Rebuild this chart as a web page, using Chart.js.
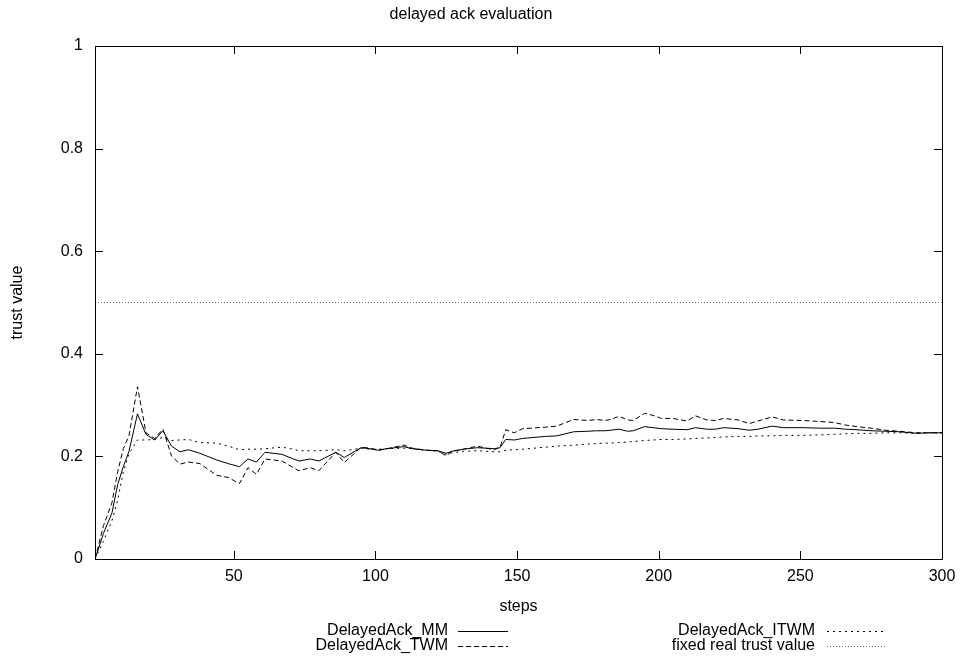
<!DOCTYPE html>
<html><head><meta charset="utf-8">
<script src="https://cdn.jsdelivr.net/npm/chart.js@4/dist/chart.umd.min.js"></script>
<style>html,body{margin:0;padding:0;background:#fff}</style>
</head><body>
<div style="width:966px;height:672px;position:relative"><canvas id="c" width="966" height="672"></canvas></div>
<script>
const steps = [1,4,7,9,11,13,16,19,22,25,28,31,34,38,44,48,52,55,58,61,67,71,73,77,80,86,89,95,98,101,104,110,113,118,122,125,127,131,136,139,142,144,146,149,152,160,164,170,175,178,181,183,186,189,191,195,198,201,205,210,213,217,220,223,228,232,235,240,244,251,257,262,266,270,275,280,285,291,295,300];
const mmValues = [0,0.05,0.09,0.145,0.18,0.21,0.283,0.243,0.232,0.25,0.22,0.209,0.213,0.206,0.193,0.186,0.18,0.195,0.189,0.208,0.204,0.195,0.191,0.195,0.191,0.208,0.198,0.217,0.215,0.212,0.215,0.219,0.215,0.212,0.211,0.206,0.21,0.214,0.217,0.216,0.215,0.217,0.233,0.232,0.235,0.239,0.24,0.248,0.249,0.25,0.25,0.251,0.253,0.249,0.25,0.258,0.256,0.254,0.253,0.252,0.256,0.253,0.253,0.256,0.254,0.251,0.253,0.259,0.256,0.256,0.255,0.255,0.253,0.252,0.25,0.249,0.248,0.245,0.246,0.246];
const twmValues = [0,0.065,0.11,0.17,0.215,0.24,0.336,0.246,0.235,0.253,0.201,0.185,0.189,0.186,0.163,0.159,0.147,0.178,0.165,0.195,0.191,0.178,0.172,0.178,0.172,0.208,0.188,0.218,0.216,0.212,0.215,0.222,0.216,0.212,0.211,0.201,0.21,0.214,0.22,0.216,0.213,0.218,0.252,0.246,0.254,0.257,0.259,0.272,0.27,0.272,0.27,0.272,0.278,0.271,0.27,0.284,0.28,0.274,0.274,0.269,0.279,0.271,0.27,0.274,0.271,0.264,0.269,0.277,0.271,0.27,0.268,0.266,0.261,0.258,0.255,0.251,0.249,0.246,0.246,0.246];
const itwmValues = [0,0.035,0.075,0.115,0.17,0.205,0.232,0.232,0.233,0.237,0.231,0.232,0.233,0.227,0.226,0.22,0.213,0.214,0.214,0.215,0.218,0.214,0.211,0.211,0.211,0.213,0.211,0.216,0.214,0.214,0.215,0.216,0.215,0.212,0.21,0.204,0.207,0.21,0.211,0.21,0.209,0.209,0.212,0.213,0.214,0.218,0.22,0.222,0.224,0.225,0.226,0.226,0.227,0.228,0.229,0.231,0.232,0.233,0.233,0.234,0.235,0.236,0.237,0.238,0.239,0.239,0.24,0.24,0.241,0.241,0.242,0.243,0.244,0.245,0.245,0.246,0.246,0.245,0.246,0.246];
const fixedSteps = [1,300];
const fixedValues = [0.5,0.5];
const xTickValues = [50,100,150,200,250,300];
const yTickValues = [0,0.2,0.4,0.6,0.8,1];
const seriesLabels = ['DelayedAck_MM','DelayedAck_TWM','DelayedAck_ITWM','fixed real trust value'];

const FONT = "'Liberation Sans', Arial, Helvetica, sans-serif";
const FS = 16;
const pts = (xs, ys) => xs.map((x, i) => ({x: x, y: ys[i]}));

const styles = [
  {borderColor:'#000', borderDash:[]},
  {borderColor:'#000', borderDash:[5,3]},
  {borderColor:'#000', borderDash:[2,4]},
  {borderColor:'#666', borderDash:[1,2]}
];

const frameTicks = {
  id:'frameTicks',
  afterDatasetsDraw(chart){
    const {ctx, chartArea:a, scales:{x, y}} = chart;
    ctx.save();
    ctx.strokeStyle = '#000';
    ctx.lineWidth = 1;
    ctx.beginPath();
    ctx.rect(Math.round(a.left)+0.5, Math.round(a.top)+0.5, Math.round(a.right-a.left), Math.round(a.bottom-a.top));
    ctx.stroke();
    const L = 8;
    ctx.beginPath();
    xTickValues.forEach(v => {
      const px = Math.round(x.getPixelForValue(v)) + 0.5;
      ctx.moveTo(px, a.bottom); ctx.lineTo(px, a.bottom - L);
      ctx.moveTo(px, a.top); ctx.lineTo(px, a.top + L);
    });
    yTickValues.forEach(v => {
      const py = Math.round(y.getPixelForValue(v)) + 0.5;
      ctx.moveTo(a.left, py); ctx.lineTo(a.left + L, py);
      ctx.moveTo(a.right, py); ctx.lineTo(a.right - L, py);
    });
    ctx.stroke();
    ctx.restore();
  }
};

const gnuLegend = {
  id:'gnuLegend',
  afterDraw(chart){
    const ctx = chart.ctx;
    ctx.save();
    ctx.font = FS + 'px ' + FONT;
    ctx.fillStyle = '#000';
    ctx.textAlign = 'right';
    ctx.textBaseline = 'middle';
    const cols = [{tx:448, s0:458, s1:508}, {tx:815, s0:827, s1:887}];
    const rows = [631, 646];
    const order = [[0,0,0],[1,0,1],[2,1,0],[3,1,1]];
    order.forEach(([i,c,r]) => {
      const col = cols[c], yy = rows[r];
      ctx.fillText(chart.data.datasets[i].label, col.tx, yy);
      ctx.beginPath();
      ctx.strokeStyle = styles[i].borderColor;
      ctx.lineWidth = 1;
      ctx.setLineDash(styles[i].borderDash);
      ctx.moveTo(col.s0, yy + 0.5); ctx.lineTo(col.s1, yy + 0.5);
      ctx.stroke();
    });
    ctx.restore();
  }
};

const datasets = [
  pts(steps, mmValues), pts(steps, twmValues), pts(steps, itwmValues), pts(fixedSteps, fixedValues)
].map((d, i) => ({
  label: seriesLabels[i], data: d,
  borderColor: styles[i].borderColor, borderDash: styles[i].borderDash,
  borderWidth: 1, pointRadius: 0, tension: 0, fill: false
}));

new Chart(document.getElementById('c'), {
  type: 'line',
  data: { datasets },
  options: {
    responsive: false, animation: false, devicePixelRatio: 1,
    layout: { padding: { left: 0, right: 24, top: 0, bottom: 0 } },
    plugins: {
      legend: { display: false },
      tooltip: { enabled: false },
      title: { display: true, text: 'delayed ack evaluation', color:'#000',
        font: { family: FONT, size: FS, weight: 'normal' }, padding: { top: 4.5, bottom: 22.3 } }
    },
    scales: {
      x: { type: 'linear', min: 1, max: 300,
        afterBuildTicks: s => { s.ticks = xTickValues.map(v => ({value: v})); },
        afterFit: s => { s.height = 672 - 559; },
        grid: { display: false, drawTicks: false },
        border: { display: false },
        ticks: { color:'#000', font: { family: FONT, size: FS }, padding: 8, maxRotation: 0,
          callback: v => String(v) },
        title: { display: true, text: 'steps', color:'#000', font: { family: FONT, size: FS }, padding: { bottom: 55.4 } }
      },
      y: { type: 'linear', min: 0, max: 1,
        afterBuildTicks: s => { s.ticks = yTickValues.map(v => ({value: v})); },
        afterFit: s => { s.width = 95; },
        grid: { display: false, drawTicks: false },
        border: { display: false },
        ticks: { color:'#000', font: { family: FONT, size: FS }, padding: 12,
          callback: v => String(v) },
        title: { display: true, text: 'trust value', color:'#000', font: { family: FONT, size: FS }, padding: { top: 8.4 } }
      }
    }
  },
  plugins: [frameTicks, gnuLegend]
});
</script>
</body></html>
